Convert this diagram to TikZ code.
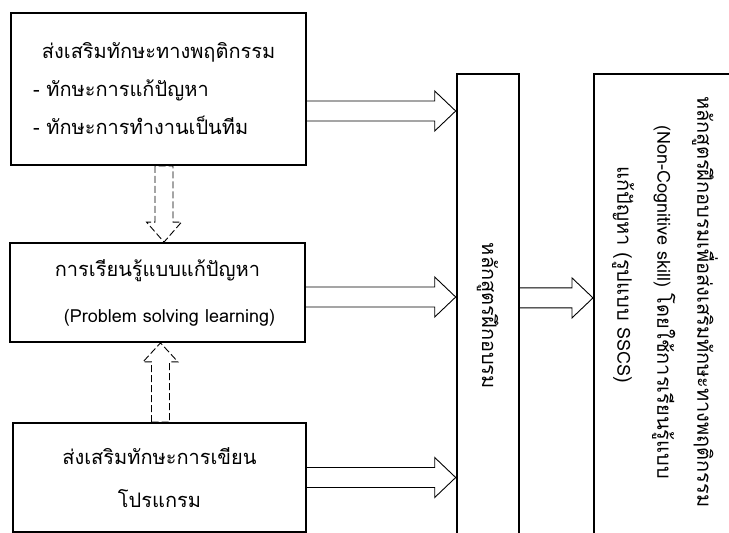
\documentclass[tikz,border=0pt]{standalone}
\usepackage{fontspec}
\setmainfont[Script=Thai]{Loma}
\newfontfamily\latinfont[Scale=0.9]{Loma}
\usetikzlibrary{calc}

\begin{document}
\begin{tikzpicture}[
    x=1pt,y=-1pt,
    box/.style={rectangle,draw,line width=1.8pt,inner sep=0pt},
    hollow/.style={line width=0.9pt,line join=miter},
    dashhollow/.style={hollow,dash pattern=on 7pt off 3pt},
    rottext/.style={rotate=-90,align=center,font=\fontsize{20}{40}\selectfont},
]
\clip (0,0) rectangle (729,533);

% === LEFT BOXES ===
\node[box,minimum width=295pt,minimum height=152pt,align=left,text width=251pt,font=\fontsize{20}{38}\selectfont] (skill) at (158.5,89)
    {\hspace*{9pt}ส่งเสริมทักษะทางพฤติกรรม\\- ทักษะการแก้ปัญหา\\- ทักษะการทำงานเป็นทีม};
\node[box,minimum width=295pt,minimum height=99pt,align=center,font=\fontsize{20}{46}\selectfont] (pbl) at (157.5,292.5)
    {การเรียนรู้แบบแก้ปัญหา\\\hspace*{24pt}{\latinfont (Problem solving learning)}};
\node[box,minimum width=293pt,minimum height=109pt,align=center,font=\fontsize{20}{43}\selectfont] (prog) at (159.5,477.5)
    {ส่งเสริมทักษะการเขียน\\โปรแกรม};

% === COURSE COLUMNS ===
\node[box,anchor=north west,minimum width=62pt,minimum height=484pt] (course) at (455.7,73) {};
\node[rottext] (coursetxt) at (course.center) {หลักสูตรฝึกอบรม};
\node[box,anchor=north west,minimum width=200pt,minimum height=500pt] (train) at (593,73) {};
\node[rottext] (traintxt) at (665,302)
    {หลักสูตรฝึกอบรมเพื่อส่งเสริมทักษะทางพฤติกรรม\\{\latinfont (Non-Cognitive skill)} โดยใช้การเรียนรู้แบบ\\แก้ปัญหา (รูปแบบ {\latinfont SSCS})\hspace*{54pt}};

% === HOLLOW ARROWS (boxes -> course) ===
\coordinate (t1) at ($(skill.east)+(0,22)$);
\coordinate (h1) at (course.west |- t1);
\draw[hollow] ($(t1)+(0,-10)$) -- ($(h1)+(-21,-10)$) -- ($(h1)+(-21,-20)$) -- (h1) -- ($(h1)+(-21,20)$) -- ($(h1)+(-21,10)$) -- ($(t1)+(0,10)$);
\coordinate (t2) at ($(pbl.east)+(0,4.5)$);
\coordinate (h2) at (course.west |- t2);
\draw[hollow] ($(t2)+(0,-10)$) -- ($(h2)+(-21,-10)$) -- ($(h2)+(-21,-20)$) -- (h2) -- ($(h2)+(-21,20)$) -- ($(h2)+(-21,10)$) -- ($(t2)+(0,10)$);
\coordinate (t3) at (prog.east);
\coordinate (h3) at (course.west |- t3);
\draw[hollow] ($(t3)+(0,-10)$) -- ($(h3)+(-21,-10)$) -- ($(h3)+(-21,-20)$) -- (h3) -- ($(h3)+(-21,20)$) -- ($(h3)+(-21,10)$) -- ($(t3)+(0,10)$);

% course -> training course
\coordinate (t4) at ($(course.east)+(0,-18)$);
\coordinate (h4) at (train.west |- t4);
\draw[hollow] ($(t4)+(0,-10)$) -- ($(h4)+(-21,-10)$) -- ($(h4)+(-21,-20)$) -- (h4) -- ($(h4)+(-21,20)$) -- ($(h4)+(-21,10)$) -- ($(t4)+(0,10)$);

% === DASHED ARROWS (between left boxes) ===
\coordinate (d1) at ($(skill.south)+(5.5,0)$);
\coordinate (d2) at (pbl.north -| d1);
\draw[dashhollow] ($(d1)+(-9,0)$) -- ($(d2)+(-9,-20)$) -- ($(d2)+(-17.5,-20)$) -- (d2) -- ($(d2)+(17.5,-20)$) -- ($(d2)+(9,-20)$) -- ($(d1)+(9,0)$) -- cycle;
\coordinate (u1) at ($(prog.north)+(1,0)$);
\coordinate (u2) at (pbl.south -| u1);
\draw[dashhollow] ($(u1)+(-9,0)$) -- ($(u2)+(-9,19)$) -- ($(u2)+(-17.5,19)$) -- (u2) -- ($(u2)+(17.5,19)$) -- ($(u2)+(9,19)$) -- ($(u1)+(9,0)$) -- cycle;

\end{tikzpicture}
\end{document}
